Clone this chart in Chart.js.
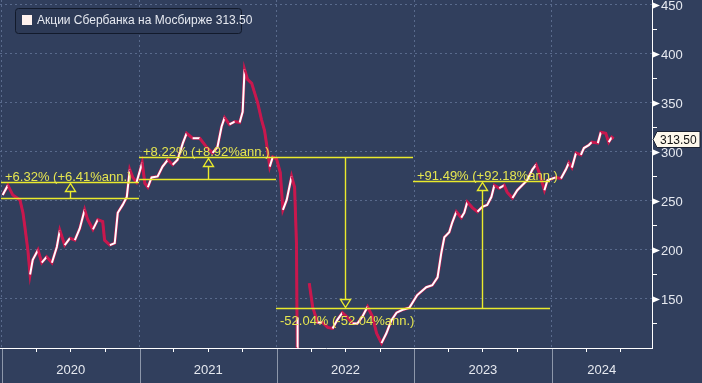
<!DOCTYPE html>
<html>
<head>
<meta charset="utf-8">
<script src="https://cdn.jsdelivr.net/npm/chart.js@4.4.1/dist/chart.umd.min.js"></script>
<style>
  html, body { margin: 0; padding: 0; background: #313f5d; }
  canvas { display: block; }
</style>
</head>
<body>
<canvas id="chart" width="702" height="383"></canvas>
<script>
const seriesName = "Акции Сбербанка на Мосбирже";
const lastPrice = 313.50;

// weekly-ish closes (null = exchange closed, Feb-Mar 2022)
const dates = [
  "2020-01-03", "2020-01-17", "2020-01-30", "2020-02-18", "2020-02-26", "2020-03-02", "2020-03-10", "2020-03-16",
  "2020-03-23", "2020-04-06", "2020-04-16", "2020-04-29", "2020-05-13", "2020-05-26", "2020-06-03", "2020-06-16",
  "2020-06-30", "2020-07-13", "2020-07-26", "2020-08-08", "2020-08-16", "2020-08-30", "2020-09-12", "2020-09-25",
  "2020-09-30", "2020-10-14", "2020-10-27", "2020-11-04", "2020-11-17", "2020-11-28", "2020-12-06", "2020-12-14",
  "2020-12-24", "2021-01-08", "2021-01-15", "2021-01-23", "2021-02-02", "2021-02-18", "2021-03-03", "2021-03-17",
  "2021-03-30", "2021-04-12", "2021-04-26", "2021-05-06", "2021-05-22", "2021-06-10", "2021-06-28", "2021-07-14",
  "2021-07-27", "2021-08-07", "2021-08-15", "2021-08-28", "2021-09-11", "2021-09-24", "2021-10-02", "2021-10-07",
  "2021-10-15", "2021-10-26", "2021-11-03", "2021-11-11", "2021-11-21", "2021-11-29", "2021-12-07", "2021-12-13",
  "2021-12-21", "2021-12-31", "2022-01-10", "2022-01-17", "2022-01-27", "2022-02-09", "2022-02-17", "2022-02-22",
  "2022-02-24", "2022-02-25", "2022-03-10", "2022-03-28", "2022-04-06", "2022-04-19", "2022-05-02", "2022-05-16",
  "2022-05-29", "2022-06-11", "2022-06-24", "2022-07-08", "2022-07-21", "2022-08-03", "2022-08-16", "2022-08-30",
  "2022-09-12", "2022-09-23", "2022-10-06", "2022-10-19", "2022-11-01", "2022-11-15", "2022-12-01", "2022-12-19",
  "2023-01-09", "2023-02-02", "2023-02-18", "2023-03-04", "2023-03-14", "2023-03-22", "2023-04-04", "2023-04-12",
  "2023-04-23", "2023-05-06", "2023-05-14", "2023-05-22", "2023-06-05", "2023-06-18", "2023-07-01", "2023-07-14",
  "2023-07-25", "2023-08-02", "2023-08-15", "2023-08-28", "2023-09-05", "2023-09-19", "2023-10-02", "2023-10-15",
  "2023-10-28", "2023-11-11", "2023-11-21", "2023-11-29", "2023-12-13", "2023-12-21", "2024-01-12", "2024-01-26",
  "2024-02-08", "2024-02-16", "2024-02-24", "2024-03-06", "2024-03-19", "2024-03-27", "2024-04-09", "2024-04-17",
  "2024-05-03", "2024-05-11", "2024-05-24", "2024-06-01", "2024-06-09", "2024-06-14"
];
const prices = [
  256, 266, 256, 251, 238, 224, 200, 175,
  190, 200, 187, 193, 187, 203, 220, 205,
  212, 210, 222, 241, 231, 221, 231, 229,
  210, 205, 207, 238, 246, 254, 282, 274,
  269, 289, 268, 264, 274, 275, 285, 292,
  287, 292, 309, 319, 314, 314, 305, 299,
  305, 326, 335, 328, 331, 330, 341, 384,
  374, 370, 360, 350, 333, 322, 302, 285,
  295, 293, 279, 241, 251, 275, 264, 207,
  101, 131, null, 166, 142, 126, 126, 121,
  120, 129, 136, 131, 125, 125, 132, 142,
  132, 115, 105, 115, 128, 136, 139, 141,
  154, 162, 164, 172, 197, 213, 218, 228,
  239, 233, 238, 249, 243, 239, 244, 246,
  254, 266, 263, 266, 259, 253, 261, 266,
  271, 282, 287, 279, 261, 271, 274, 273,
  282, 289, 284, 299, 297, 304, 307, 310,
  309, 320, 319, 310, 315, 313.5
];

const years = ["2020", "2021", "2022", "2023", "2024"];
const priceTicks = [150, 200, 250, 300, 350, 400, 450];
const minorPriceTicks = [125, 175, 225, 275, 325, 375, 425];

// period-change studies
const annFrom = ["2019-12-30", "2020-12-30", "2021-12-30", "2022-12-30"];
const annTo = ["2020-12-30", "2021-12-30", "2022-12-29", "2023-12-29"];
const annStart = [253, 272, 294.4, 141.2];
const annEnd = [269, 294.4, 141.2, 270.4];
const annLabels = ["+6.32% (+6.41%ann.)", "+8.22% (+8.92%ann.)", "-52.04% (-52.04%ann.)", "+91.49% (+92.18%ann.)"];

const BG = "#313f5d";
const GRID = "#596a8c";
const TEXT = "#e6e9f0";
const YELLOW = "#eaea2c";
const RED = "#c8184e";
const FONT = '"Liberation Sans", Arial, sans-serif';

const points = dates.map((d, i) => ({ x: Date.parse(d), y: prices[i] }));

function line(ctx, x0, y0, x1, y1) {
  ctx.beginPath();
  ctx.moveTo(x0, y0);
  ctx.lineTo(x1, y1);
  ctx.stroke();
}

function drawAnnotations(chart) {
  const { ctx, scales: { x, y } } = chart;
  ctx.save();
  ctx.strokeStyle = YELLOW;
  ctx.fillStyle = "#e6e650";
  ctx.lineWidth = 1.4;
  ctx.font = "13px " + FONT;
  annLabels.forEach((label, i) => {
    const x0 = Math.round(x.getPixelForValue(Date.parse(annFrom[i])));
    const x1 = Math.round(x.getPixelForValue(Date.parse(annTo[i])));
    const y0 = Math.round(y.getPixelForValue(annStart[i])) + 0.5;
    const y1 = Math.round(y.getPixelForValue(annEnd[i])) + 0.5;
    const xm = Math.round((x0 + x1) / 2) + 0.5;
    const up = y1 < y0;
    line(ctx, x0, y0, x1, y0);
    line(ctx, x0, y1, x1, y1);
    const base = y1 + (up ? 9 : -9);
    ctx.beginPath();
    ctx.moveTo(xm, y1 + (up ? 1 : -1));
    ctx.lineTo(xm - 5, base);
    ctx.lineTo(xm + 5, base);
    ctx.closePath();
    ctx.stroke();
    line(ctx, xm, base, xm, y0);
    ctx.textBaseline = "alphabetic";
    ctx.textAlign = "left";
    ctx.fillText(label, x0 + 4, up ? y1 - 2 : y1 + 16);
  });
  ctx.restore();
}

function drawAxes(chart) {
  const { ctx, chartArea, scales: { x, y } } = chart;
  const bottom = chartArea.bottom;
  const right = chartArea.right;
  ctx.save();
  ctx.font = "13px " + FONT;
  ctx.fillStyle = TEXT;

  // x axis: year separators, quarter ticks, centred year labels
  years.forEach((yr) => {
    const start = Date.parse(yr + "-01-01");
    const end = Date.parse((+yr + 1) + "-01-01");
    const xs = Math.round(x.getPixelForValue(start)) + 0.5;
    ctx.strokeStyle = "#8d97aa";
    line(ctx, xs, bottom + 1, xs, chart.height);
    ctx.strokeStyle = "#ffffff";
    ["-04-01", "-07-01", "-10-01"].forEach((q) => {
      const v = Date.parse(yr + q);
      if (v < x.max) {
        const xq = Math.round(x.getPixelForValue(v)) + 0.5;
        line(ctx, xq, bottom, xq, bottom + 4);
      }
    });
    const a = x.getPixelForValue(Math.max(start, x.min));
    const b = x.getPixelForValue(Math.min(end, x.max));
    ctx.textAlign = "center";
    ctx.textBaseline = "middle";
    ctx.fillText(yr, (a + b) / 2, bottom + 22);
  });

  // y axis: triangles on majors, short minors, labels
  ctx.strokeStyle = "#ffffff";
  minorPriceTicks.forEach((v) => {
    const yy = Math.round(y.getPixelForValue(v)) + 0.5;
    line(ctx, right, yy, right + 5, yy);
  });
  priceTicks.forEach((v) => {
    const yy = Math.round(y.getPixelForValue(v)) + 0.5;
    ctx.fillStyle = "#ffffff";
    ctx.beginPath();
    ctx.moveTo(right + 1, yy - 3);
    ctx.lineTo(right + 8, yy);
    ctx.lineTo(right + 1, yy + 3);
    ctx.closePath();
    ctx.fill();
    ctx.fillStyle = TEXT;
    ctx.textAlign = "left";
    ctx.textBaseline = "middle";
    ctx.fillText(String(v), right + 9, yy + 1);
  });

  // last price tag
  ctx.font = "12px " + FONT;
  const yl = Math.round(y.getPixelForValue(lastPrice)) + 0.5;
  ctx.fillStyle = "#fdf8ec";
  ctx.strokeStyle = "#1b2233";
  ctx.beginPath();
  ctx.moveTo(right + 1, yl);
  ctx.lineTo(right + 5, yl - 8);
  ctx.lineTo(right + 48, yl - 8);
  ctx.lineTo(right + 48, yl + 8);
  ctx.lineTo(right + 5, yl + 8);
  ctx.closePath();
  ctx.fill();
  ctx.stroke();
  ctx.fillStyle = "#111111";
  ctx.fillText(lastPrice.toFixed(2), right + 8, yl + 1);
  ctx.restore();
}

function drawLegend(chart) {
  const { ctx } = chart;
  ctx.save();
  ctx.fillStyle = "#2d3a56";
  ctx.strokeStyle = "#121a2b";
  ctx.lineWidth = 1;
  ctx.beginPath();
  ctx.roundRect(15.5, 8.5, 226, 25, 3);
  ctx.fill();
  ctx.stroke();
  ctx.fillStyle = "#fff2ee";
  ctx.fillRect(22, 15, 10, 10);
  ctx.fillStyle = TEXT;
  ctx.font = "12px " + FONT;
  ctx.textBaseline = "middle";
  ctx.fillText(seriesName + " " + lastPrice.toFixed(2), 37, 21);
  ctx.restore();
}

const decorations = {
  id: "decorations",
  beforeDraw(chart) {
    const { ctx } = chart;
    ctx.save();
    ctx.fillStyle = BG;
    ctx.fillRect(0, 0, chart.width, chart.height);
    ctx.restore();
  },
  afterDatasetsDraw(chart) {
    drawAnnotations(chart);
  },
  afterDraw(chart) {
    drawAxes(chart);
    drawLegend(chart);
  }
};

new Chart(document.getElementById("chart"), {
  type: "line",
  data: {
    datasets: [
      {
        label: seriesName,
        data: points,
        borderWidth: 2,
        pointRadius: 0,
        tension: 0,
        spanGaps: false,
        order: 0,
        segment: {
          borderColor: (c) => (c.p1.parsed.y >= c.p0.parsed.y ? "#ffffff" : RED)
        }
      },
      {
        label: seriesName + " (bodies)",
        data: points,
        borderColor: RED,
        borderWidth: 3,
        pointRadius: 0,
        tension: 0,
        spanGaps: false,
        order: 1
      }
    ]
  },
  options: {
    responsive: false,
    animation: false,
    devicePixelRatio: 1,
    layout: { padding: 0 },
    plugins: { legend: { display: false }, tooltip: { enabled: false } },
    scales: {
      x: {
        type: "linear",
        min: Date.parse("2019-12-27"),
        max: Date.parse("2024-09-24"),
        afterBuildTicks: (scale) => {
          scale.ticks = years.map((yr) => ({ value: Date.parse(yr + "-01-01") }));
        },
        afterFit: (scale) => { scale.height = 35; },
        ticks: { display: false },
        grid: { color: GRID, drawTicks: false },
        border: { color: "#ffffff", width: 1, dash: [2, 3] }
      },
      y: {
        position: "right",
        min: 100,
        max: 455,
        afterBuildTicks: (scale) => {
          scale.ticks = priceTicks.map((v) => ({ value: v }));
        },
        afterFit: (scale) => { scale.width = 50; },
        ticks: { display: false },
        grid: { color: GRID, drawTicks: false },
        border: { color: "#ffffff", width: 1, dash: [2, 3] }
      }
    }
  },
  plugins: [decorations]
});
</script>
</body>
</html>
